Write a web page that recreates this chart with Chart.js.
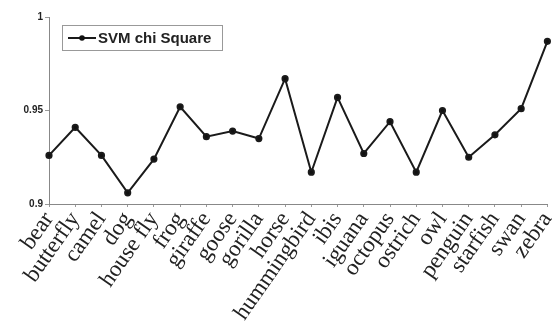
<!DOCTYPE html>
<html>
<head>
<meta charset="utf-8">
<script src="https://cdn.jsdelivr.net/npm/chart.js@4.4.1/dist/chart.umd.min.js"></script>
<style>
  html, body { margin: 0; padding: 0; background: #fff; }
  #wrap { width: 552px; height: 327px; }
</style>
</head>
<body>
<div id="wrap"><canvas id="grafico" width="552" height="327"></canvas></div>
<script>
const categorias = ['bear', 'butterfly', 'camel', 'dog', 'house fly', 'frog', 'giraffe', 'goose',
  'gorilla', 'horse', 'hummingbird', 'ibis', 'iguana', 'octopus', 'ostrich', 'owl',
  'penguin', 'starfish', 'swan', 'zebra'];
const valoresChi = [0.926, 0.941, 0.926, 0.906, 0.924, 0.952, 0.936, 0.939,
  0.935, 0.967, 0.917, 0.957, 0.927, 0.944, 0.917, 0.950,
  0.925, 0.937, 0.951, 0.987];
const ticksY = [0.9, 0.95, 1];
const etiquetaSerie = 'SVM chi Square';

// legend box drawn by hand: framed, line sample with a dot
const leyendaCaja = {
  id: 'leyendaCaja',
  afterDraw(chart) {
    const c = chart.ctx;
    const x = 62, y = 25, w = 160, h = 25;
    c.save();
    c.fillStyle = '#fff';
    c.fillRect(x, y, w, h);
    c.strokeStyle = '#999';
    c.lineWidth = 1;
    c.strokeRect(x + 0.5, y + 0.5, w, h);
    c.strokeStyle = '#1a1a1a';
    c.lineWidth = 2;
    c.beginPath();
    c.moveTo(68, y + 13);
    c.lineTo(96, y + 13);
    c.stroke();
    c.fillStyle = '#111';
    c.beginPath();
    c.arc(82, y + 13, 2.8, 0, Math.PI * 2);
    c.fill();
    c.font = 'bold 15px "Liberation Sans", Arial, sans-serif';
    c.textBaseline = 'middle';
    c.fillStyle = '#222';
    c.fillText(chart.data.datasets[0].label, 98, y + 13.5);
    c.restore();
  }
};

new Chart(document.getElementById('grafico').getContext('2d'), {
  type: 'line',
  data: {
    labels: categorias,
    datasets: [{
      label: etiquetaSerie,
      data: valoresChi,
      borderColor: '#1a1a1a',
      backgroundColor: '#111',
      borderWidth: 2,
      pointRadius: 2.6,
      pointHoverRadius: 2.6,
      tension: 0,
      clip: false
    }]
  },
  options: {
    responsive: false,
    animation: false,
    layout: { padding: { top: 17, right: 3, left: 0, bottom: 0 } },
    plugins: {
      legend: { display: false },
      tooltip: { enabled: false }
    },
    scales: {
      x: {
        offset: false,
        border: { color: '#888', width: 1 },
        grid: { display: true, drawOnChartArea: false, color: '#999', tickLength: 3 },
        ticks: {
          autoSkip: false,
          minRotation: 55,
          maxRotation: 55,
          padding: 0,
          color: '#222',
          font: { family: '"Liberation Serif", "Times New Roman", serif', size: 23 }
        },
        afterFit(s) { s.height = 123; s.paddingLeft = 0; s.paddingRight = 0; }
      },
      y: {
        min: 0.9,
        max: 1,
        border: { color: '#888', width: 1 },
        grid: { display: true, drawOnChartArea: false, color: '#999', tickLength: 4 },
        afterBuildTicks(s) { s.ticks = ticksY.map(v => ({ value: v })); },
        ticks: {
          padding: 2,
          color: '#222',
          font: { family: '"Liberation Sans", Arial, sans-serif', size: 10, weight: 'bold' },
          callback: v => String(+v.toFixed(2))
        },
        afterFit(s) { s.width = 49; s.paddingTop = 0; s.paddingBottom = 0; }
      }
    }
  },
  plugins: [leyendaCaja]
});
</script>
</body>
</html>
